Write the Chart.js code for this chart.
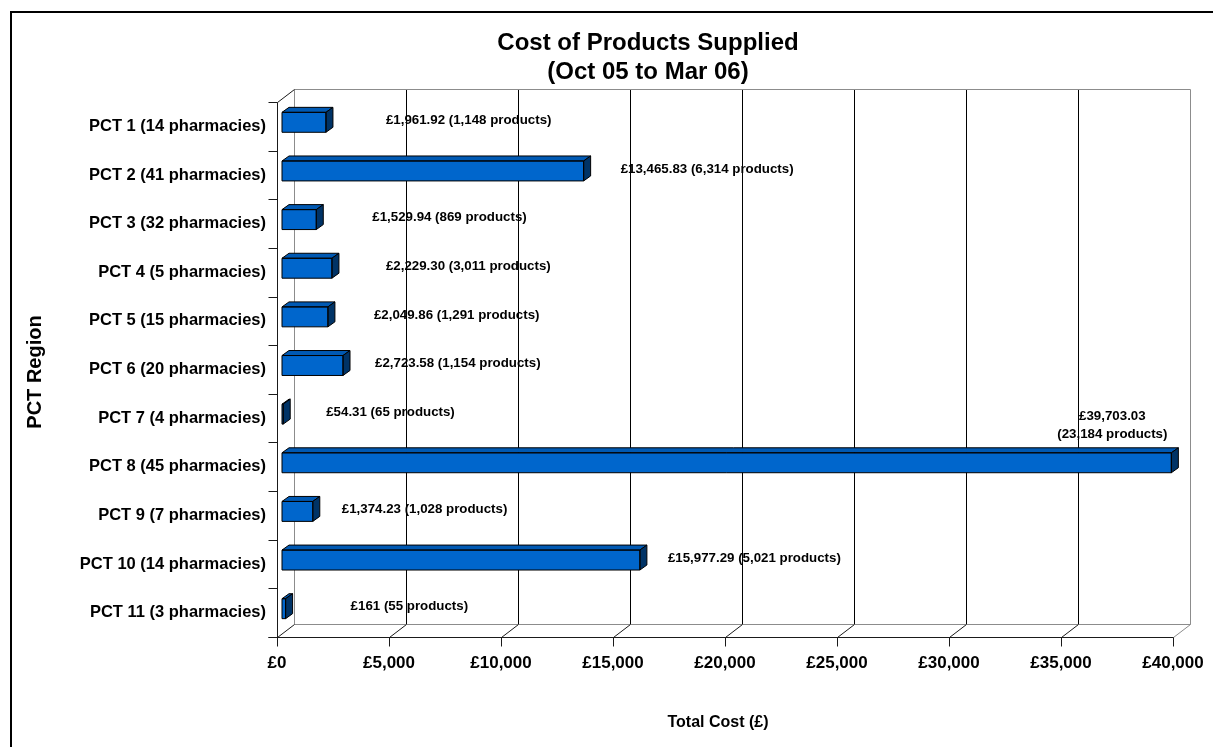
<!DOCTYPE html>
<html><head><meta charset="utf-8">
<script src="https://cdn.jsdelivr.net/npm/chart.js@4/dist/chart.umd.min.js"></script>
<style>html,body{margin:0;padding:0;background:#fff;overflow:hidden}canvas{display:block}</style>
</head><body>
<canvas id="c" width="1213" height="747"></canvas>
<script>
// ---- data ----
const categories = [
  'PCT 1 (14 pharmacies)', 'PCT 2 (41 pharmacies)', 'PCT 3 (32 pharmacies)',
  'PCT 4 (5 pharmacies)', 'PCT 5 (15 pharmacies)', 'PCT 6 (20 pharmacies)',
  'PCT 7 (4 pharmacies)', 'PCT 8 (45 pharmacies)', 'PCT 9 (7 pharmacies)',
  'PCT 10 (14 pharmacies)', 'PCT 11 (3 pharmacies)'
];
const totalCost = [1961.92, 13465.83, 1529.94, 2229.30, 2049.86, 2723.58, 54.31, 39703.03, 1374.23, 15977.29, 161];
const productCount = [1148, 6314, 869, 3011, 1291, 1154, 65, 23184, 1028, 5021, 55];
const xTickValues = [0, 5000, 10000, 15000, 20000, 25000, 30000, 35000, 40000];
const xTickLabels = ['£0', '£5,000', '£10,000', '£15,000', '£20,000', '£25,000', '£30,000', '£35,000', '£40,000'];
const chartTitle = ['Cost of Products Supplied', '(Oct 05 to Mar 06)'];
const xAxisTitle = 'Total Cost (£)';
const yAxisTitle = 'PCT Region';

// ---- layout / style (not data) ----
const FONT = '"Liberation Sans", Arial, Helvetica, sans-serif';
const labelNudgePx = [53, 30, 49, 47, 39, 25, 36, -66, 22, 21, 58];
const DEPTH = {dx: 17, dy: -13};
const BAR_SHIFT = {dx: 5, dy: -4};
const BAR_DEPTH = {dx: 7, dy: -5};

function fmtNum(v) {
  const int = Number.isInteger(v);
  return v.toLocaleString('en-GB', {minimumFractionDigits: int ? 0 : 2, maximumFractionDigits: int ? 0 : 2});
}
function line(ctx, x1, y1, x2, y2, col, w) {
  ctx.beginPath();
  ctx.strokeStyle = col; ctx.lineWidth = w || 1;
  ctx.moveTo(Math.round(x1) + 0.5, Math.round(y1) + 0.5);
  ctx.lineTo(Math.round(x2) + 0.5, Math.round(y2) + 0.5);
  ctx.stroke();
}

const threeD = {
  id: 'threeD',
  beforeDraw(chart) {
    const c = chart.ctx;
    c.save(); c.fillStyle = '#fff'; c.fillRect(0, 0, chart.width, chart.height); c.restore();
  },
  beforeDatasetsDraw(chart) {
    const {ctx, chartArea: a, scales: {x: xs, y: ys}} = chart;
    const L = a.left, R = a.right, T = a.top, B = a.bottom, dx = DEPTH.dx, dy = DEPTH.dy;
    const gray = '#8c8c8c', dark = '#1a1a1a';
    ctx.save();
    xTickValues.forEach(v => {
      const px = xs.getPixelForValue(v);
      if (v > xs.min && v < xs.max) line(ctx, px + dx, T + dy, px + dx, B + dy, '#000');
    });
    line(ctx, L + dx, T + dy, R + dx, T + dy, gray);
    line(ctx, R + dx, T + dy, R + dx, B + dy, gray);
    line(ctx, L + dx, T + dy, L + dx, B + dy, gray);
    line(ctx, L + dx, B + dy, R + dx, B + dy, gray);
    xTickValues.forEach(v => {
      const px = xs.getPixelForValue(v);
      line(ctx, px, B, px + dx, B + dy, v === xs.max ? gray : dark);
      line(ctx, px, B, px, B + 9, dark);
    });
    line(ctx, L - 9, B, R, B, dark);
    line(ctx, L, T, L, B, dark);
    line(ctx, L, T, L + dx, T + dy, dark);
    for (let i = 0; i <= categories.length; i++) {
      const y = ys.getPixelForValue(i - 0.5);
      line(ctx, L - 9, y, L, y, dark);
    }
    ctx.restore();
    ctx.save();
    ctx.translate(BAR_SHIFT.dx, BAR_SHIFT.dy);
  },
  afterDatasetsDraw(chart) {
    const {ctx, scales: {x: xs, y: ys}} = chart;
    const meta = chart.getDatasetMeta(0);
    const ddx = BAR_DEPTH.dx, ddy = BAR_DEPTH.dy;
    meta.data.forEach(el => {
      const p = el.getProps(['x', 'y', 'base', 'height'], true);
      const x0 = Math.min(p.base, p.x), x1 = Math.max(p.base, p.x);
      const yt = p.y - p.height / 2, yb = p.y + p.height / 2;
      ctx.lineWidth = 1; ctx.strokeStyle = '#000'; ctx.lineJoin = 'round';
      ctx.beginPath();
      ctx.moveTo(x0, yt); ctx.lineTo(x0 + ddx, yt + ddy); ctx.lineTo(x1 + ddx, yt + ddy); ctx.lineTo(x1, yt); ctx.closePath();
      ctx.fillStyle = '#0059b3'; ctx.fill(); ctx.stroke();
      ctx.beginPath();
      ctx.moveTo(x1, yt); ctx.lineTo(x1 + ddx, yt + ddy); ctx.lineTo(x1 + ddx, yb + ddy); ctx.lineTo(x1, yb); ctx.closePath();
      ctx.fillStyle = '#003366'; ctx.fill(); ctx.stroke();
      ctx.strokeRect(x0, yt, x1 - x0, yb - yt);
    });
    ctx.restore();
    ctx.save();
    ctx.fillStyle = '#000';
    ctx.font = 'bold 13.3px ' + FONT;
    ctx.textBaseline = 'middle';
    totalCost.forEach((v, i) => {
      const barEnd = xs.getPixelForValue(v) + BAR_SHIFT.dx + BAR_DEPTH.dx;
      const yc = ys.getPixelForValue(i) + BAR_SHIFT.dy;
      const costTxt = '£' + fmtNum(v);
      const prodTxt = '(' + fmtNum(productCount[i]) + ' products)';
      const full = costTxt + ' ' + prodTxt;
      const w = ctx.measureText(full).width;
      const xl = barEnd + labelNudgePx[i];
      if (labelNudgePx[i] >= 0 && xl + w <= chart.width) {
        ctx.textAlign = 'left';
        ctx.fillText(full, xl, yc - 2);
      } else {
        ctx.textAlign = 'center';
        ctx.fillText(costTxt, xl, yc - 46);
        ctx.fillText(prodTxt, xl, yc - 28);
      }
    });
    ctx.restore();
  },
  afterDraw(chart) {
    const ctx = chart.ctx;
    ctx.save();
    ctx.fillStyle = '#000';
    ctx.textAlign = 'center'; ctx.textBaseline = 'middle';
    ctx.font = 'bold 24px ' + FONT;
    ctx.fillText(chartTitle[0], 648, 43);
    ctx.fillText(chartTitle[1], 648, 72);
    ctx.font = 'bold 16px ' + FONT;
    ctx.fillText(xAxisTitle, 718, 723);
    ctx.save();
    ctx.translate(35, 372); ctx.rotate(-Math.PI / 2);
    ctx.font = 'bold 20px ' + FONT;
    ctx.fillText(yAxisTitle, 0, 0);
    ctx.restore();
    ctx.strokeStyle = '#000'; ctx.lineWidth = 2;
    ctx.strokeRect(11, 12, chart.width + 20, chart.height + 20);
    ctx.restore();
  }
};

new Chart(document.getElementById('c'), {
  type: 'bar',
  data: {
    labels: categories,
    datasets: [{
      data: totalCost,
      backgroundColor: '#0066cc',
      borderColor: '#000',
      borderWidth: 0,
      barPercentage: 0.41,
      categoryPercentage: 1,
      clip: false
    }]
  },
  options: {
    responsive: false,
    animation: false,
    devicePixelRatio: 1,
    indexAxis: 'y',
    layout: {padding: {left: 0, top: 102, right: 40, bottom: 0}},
    plugins: {legend: {display: false}, tooltip: {enabled: false}, title: {display: false}},
    scales: {
      x: {
        type: 'linear', min: 0, max: 40000,
        afterBuildTicks: s => { s.ticks = xTickValues.map(v => ({value: v})); },
        ticks: {
          callback: (v) => xTickLabels[xTickValues.indexOf(v)],
          font: {family: FONT, size: 17, weight: 'bold'}, color: '#000',
          padding: 16, maxRotation: 0, autoSkip: false
        },
        grid: {display: false, drawTicks: false},
        border: {display: false},
        afterFit: s => { s.height = 110; s.paddingLeft = 0; s.paddingRight = 0; }
      },
      y: {
        ticks: {font: {family: FONT, size: 16.5, weight: 'bold'}, color: '#000', padding: 11, autoSkip: false},
        grid: {display: false, drawTicks: false},
        border: {display: false},
        afterFit: s => { s.width = 277; s.paddingTop = 0; s.paddingBottom = 0; }
      }
    }
  },
  plugins: [threeD]
});
</script>
</body></html>
